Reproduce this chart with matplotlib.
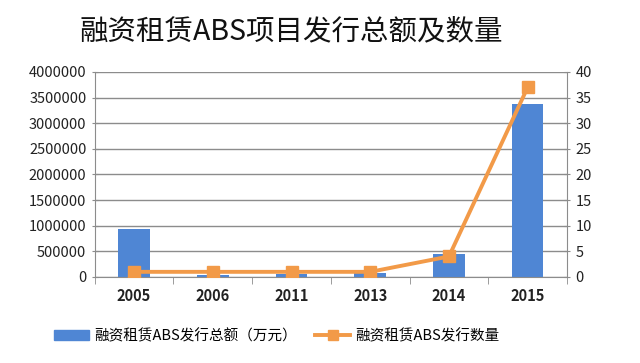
import matplotlib
matplotlib.use("Agg")
import matplotlib.pyplot as plt
from matplotlib.lines import Line2D
from matplotlib.patches import Patch
import numpy as np

plt.rcParams['font.family'] = ['Noto Sans CJK SC', 'DejaVu Sans']

years = ['2005', '2006', '2011', '2013', '2014', '2015']
amount = [940000, 40000, 60000, 80000, 440000, 3370000]
count = [1, 1, 1, 1, 4, 37]
title = '融资租赁ABS项目发行总额及数量'
label_bar = '融资租赁ABS发行总额（万元）'
label_line = '融资租赁ABS发行数量'

bar_color = '#4F86D4'
line_color = '#F29A48'
grid_color = '#8C8C8C'

fig = plt.figure(figsize=(6.4, 3.63), dpi=100)
ax = fig.add_axes([0.148, 0.237, 0.738, 0.565])
x = np.arange(len(years))
ax.bar(x, amount, width=0.4, color=bar_color, zorder=2)
ax.set_xlim(-0.5, len(years) - 0.5)
ax.set_ylim(0, 4000000)
ax.set_yticks(np.arange(0, 4000001, 500000))
ax.set_yticklabels([str(v) for v in range(0, 4000001, 500000)], fontsize=10.5, color='#222222')
ax.yaxis.grid(True, color=grid_color, linewidth=1, zorder=0)
ax.set_xticks(x)
ax.set_xticklabels(years, fontsize=10.5, fontweight='bold', color='#222222')
ax.tick_params(axis='x', length=0, pad=8)
ax.set_xticks(np.arange(-0.5, len(years)), minor=True)
ax.tick_params(axis='x', which='minor', length=5, color=grid_color, direction='out')
ax.tick_params(axis='y', length=5, color=grid_color, direction='inout')
for s in ['top', 'right']:
    ax.spines[s].set_visible(False)
for s in ['left', 'bottom']:
    ax.spines[s].set_color(grid_color)

ax2 = ax.twinx()
ax2.plot(x, count, color=line_color, linewidth=2.8, marker='s', markersize=8, zorder=3)
ax2.set_ylim(0, 40)
ax2.set_yticks(np.arange(0, 41, 5))
ax2.set_yticklabels([str(v) for v in range(0, 41, 5)], fontsize=10.5, color='#222222')
ax2.tick_params(axis='y', length=5, color=grid_color, direction='inout')
for s in ['top', 'left', 'bottom']:
    ax2.spines[s].set_visible(False)
ax2.spines['right'].set_color(grid_color)

fig.text(0.455, 0.915, title, fontsize=20.5, ha='center', va='center', color='#111111')

handles = [Patch(color=bar_color),
           Line2D([0], [0], color=line_color, linewidth=2.8, marker='s', markersize=7)]
fig.legend(handles, [label_bar, label_line], loc='center left', bbox_to_anchor=(0.085, 0.074),
           ncol=2, frameon=False, fontsize=10.5, handlelength=2.4, columnspacing=1.3,
           handletextpad=0.3, borderaxespad=0, borderpad=0)

fig.savefig('out.png', dpi=100)
